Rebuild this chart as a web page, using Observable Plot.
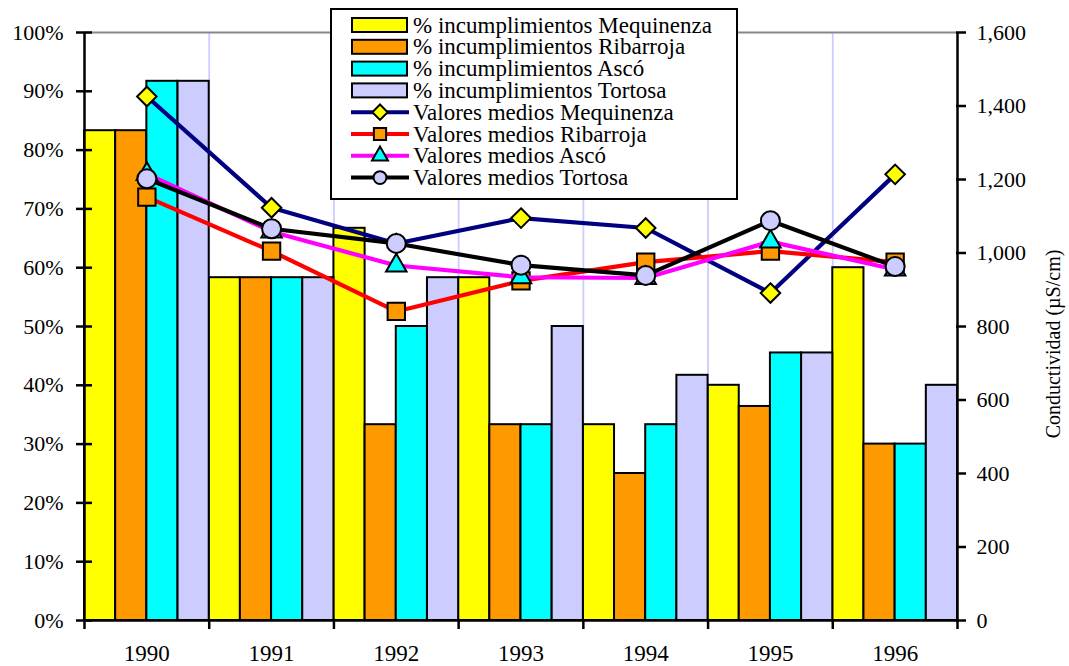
<!DOCTYPE html>
<html>
<head>
<meta charset="utf-8">
<script src="https://cdn.jsdelivr.net/npm/d3@7"></script>
<script src="https://cdn.jsdelivr.net/npm/@observablehq/plot@0.6"></script>
<style>
  html, body { margin: 0; padding: 0; background: #fff; }
  #chart { width: 1069px; height: 666px; }
  #chart svg text { font-family: "Liberation Serif", "Times New Roman", serif; }
</style>
</head>
<body>
<div id="chart"></div>
<script>
// ---- data ----
const years = [1990, 1991, 1992, 1993, 1994, 1995, 1996];
const stations = ["Mequinenza", "Ribarroja", "Ascó", "Tortosa"];
const incMequinenza = [83.3, 58.3, 66.7, 58.3, 33.3, 40.0, 60.0];
const incRibarroja  = [83.3, 58.3, 33.3, 33.3, 25.0, 36.4, 30.0];
const incAsco       = [91.7, 58.3, 50.0, 33.3, 33.3, 45.5, 30.0];
const incTortosa    = [91.7, 58.3, 58.3, 50.0, 41.7, 45.5, 40.0];
const condMequinenza = [1426, 1123, 1026, 1095, 1068, 891, 1214];
const condRibarroja  = [1152, 1005, 841, 924, 975, 1005, 975];
const condAsco       = [1215, 1058, 966, 934, 932, 1031, 955];
const condTortosa    = [1202, 1066, 1026, 967, 939, 1088, 963];
const pctTicks = [0, 10, 20, 30, 40, 50, 60, 70, 80, 90, 100];
const condTicks = [0, 200, 400, 600, 800, 1000, 1200, 1400, 1600];
const condMax = 1600;

const barFill = ["#FFFF00", "#FF9900", "#00FFFF", "#CCCCFF"];
const lineStroke = ["#000080", "#FF0000", "#FF00FF", "#000000"];
const markerSymbol = ["diamond2", "square", "triangle", "circle"];
const markerR = [8.8, 9.8, 7.6, 9.5];

const incSeries = [incMequinenza, incRibarroja, incAsco, incTortosa];
const condSeries = [condMequinenza, condRibarroja, condAsco, condTortosa];

const barData = [];
incSeries.forEach((vals, k) => vals.forEach((v, i) => barData.push({year: years[i], k, value: v})));
const lineData = condSeries.map((vals, k) => vals.map((v, i) => ({year: years[i], k, cond: v})));
const boundaries = d3.range(years.length + 1).map(i => years[0] - 0.5 + i);
const innerBounds = boundaries.slice(1, -1);
const toPct = v => v / condMax * 100;

const marks = [
  Plot.ruleX(innerBounds, {stroke: "#CCCCFF", strokeWidth: 1.8}),
  Plot.ruleY([100], {stroke: "#888888", strokeWidth: 2}),
  Plot.rectY(barData, {
    x1: d => d.year - 0.5 + d.k / 4,
    x2: d => d.year - 0.5 + (d.k + 1) / 4,
    y: "value",
    fill: d => barFill[d.k],
    stroke: "#000", strokeWidth: 2
  }),
  Plot.ruleX([boundaries[0], boundaries[boundaries.length - 1]], {stroke: "#000", strokeWidth: 2.5}),
  Plot.ruleY([0], {stroke: "#000", strokeWidth: 2.5}),
];
lineData.forEach((ser, k) => {
  marks.push(Plot.line(ser, {x: "year", y: d => toPct(d.cond), stroke: lineStroke[k], strokeWidth: 4.2}));
  marks.push(Plot.dot(ser, {x: "year", y: d => toPct(d.cond), symbol: () => markerSymbol[k], r: markerR[k],
    fill: barFill[k], stroke: "#000", strokeWidth: 2}));
});
marks.push(
  Plot.axisY({anchor: "left", ticks: pctTicks, tickFormat: d => d + "%", tickSize: 16, dx: 8, tickPadding: 13,
    strokeWidth: 2.5, label: null, fontSize: 22}),
  Plot.axisY({anchor: "right", ticks: condTicks.map(toPct), tickFormat: d => d3.format(",")(Math.round(d / 100 * condMax)),
    tickSize: 10, dx: -2, tickPadding: 11, strokeWidth: 2.5, label: null, fontSize: 22}),
  Plot.axisX({anchor: "bottom", ticks: boundaries, tickFormat: () => "", tickSize: 9, strokeWidth: 2.5, label: null}),
  Plot.axisX({anchor: "bottom", ticks: years, tickFormat: d => String(d), tickSize: 0, tickPadding: 24, label: null, fontSize: 23})
);

const chart = Plot.plot({
  width: 1069,
  height: 666,
  marginLeft: 84,
  marginRight: 112,
  marginTop: 32,
  marginBottom: 46,
  x: {type: "linear", domain: [boundaries[0], boundaries[boundaries.length - 1]], label: null},
  y: {domain: [0, 100], label: null},
  symbol: {type: "identity"},
  style: {fontFamily: "Liberation Serif, Times New Roman, serif", fontSize: "22px", background: "#fff", color: "#000"},
  marks
});

// ---- legend (inside plot area) ----
const svg = d3.select(chart);
const legendLabels = [
  ...stations.map(s => "% incumplimientos " + s),
  ...stations.map(s => "Valores medios " + s)
];
const lg = svg.append("g").attr("font-size", 23).attr("text-anchor", "start");
lg.append("rect").attr("x", 331).attr("y", 9).attr("width", 406).attr("height", 190)
  .attr("fill", "#fff").attr("stroke", "#000").attr("stroke-width", 2);
const rowY = i => 25 + i * 21.8;
legendLabels.forEach((lab, i) => {
  const cy = rowY(i);
  if (i < 4) {
    lg.append("rect").attr("x", 352).attr("y", cy - 7).attr("width", 55).attr("height", 14)
      .attr("fill", barFill[i]).attr("stroke", "#000").attr("stroke-width", 2);
  } else {
    const k = i - 4;
    lg.append("line").attr("x1", 351).attr("x2", 409).attr("y1", cy).attr("y2", cy)
      .attr("stroke", lineStroke[k]).attr("stroke-width", 4);
    const sym = [d3.symbolDiamond2, d3.symbolSquare, d3.symbolTriangle, d3.symbolCircle][k];
    const size = [150, 150, 110, 130][k];
    lg.append("path").attr("d", d3.symbol(sym, size)()).attr("transform", `translate(380,${cy})`)
      .attr("fill", barFill[k]).attr("stroke", "#000").attr("stroke-width", 2);
  }
  lg.append("text").attr("x", 413).attr("y", cy).attr("dy", "0.33em").attr("text-anchor", "start").text(lab);
});

// ---- right axis title ----
svg.append("text")
  .attr("transform", "translate(1060,344) rotate(-90)")
  .attr("text-anchor", "middle")
  .attr("font-size", 20)
  .text("Conductividad (µS/cm)");

document.getElementById("chart").appendChild(chart);
</script>
</body>
</html>
